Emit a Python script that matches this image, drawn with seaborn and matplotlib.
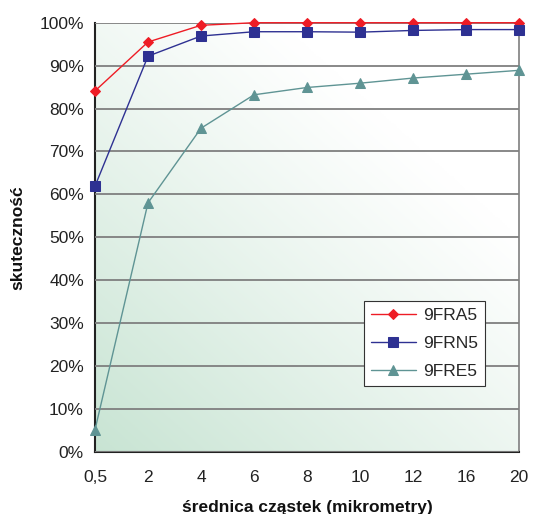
import numpy as np
import pandas as pd
import matplotlib
matplotlib.use("Agg")
import matplotlib.pyplot as plt
import seaborn as sns
from matplotlib.ticker import FuncFormatter

x_labels = ["0,5", "2", "4", "6", "8", "10", "12", "16", "20"]
fra5 = [84.1, 95.5, 99.4, 100.0, 100.0, 100.0, 100.0, 100.0, 100.0]
frn5 = [61.9, 92.2, 96.9, 97.9, 97.9, 97.8, 98.2, 98.4, 98.4]
fre5 = [5.1, 58.0, 75.4, 83.2, 84.9, 85.9, 87.1, 88.0, 88.9]
series_names = ["9FRA5", "9FRN5", "9FRE5"]

sns.set_style("white")
plt.rcParams['font.family'] = ['Liberation Sans', 'DejaVu Sans']

fig = plt.figure(figsize=(5.34, 5.14), dpi=100)
ax = fig.add_axes([0.1779, 0.1212, 0.7940, 0.8346])

# gradient background
n = 256
gx, gy = np.meshgrid(np.linspace(0, 1, n), np.linspace(0, 1, n))
t = np.clip(1 - (gx * 0.8 + gy * 0.9) / 1.25, 0, 1) ** 1.1
green = np.array([200, 228, 211]) / 255.0
white = np.array([1.0, 1.0, 1.0])
img = white[None, None, :] * (1 - t[..., None]) + green[None, None, :] * t[..., None]
ax.imshow(img, extent=[0, 1, 0, 1], transform=ax.transAxes, origin="lower",
          aspect="auto", zorder=0)

pos = list(range(len(x_labels)))
df = pd.DataFrame({"pos": pos * 3,
                   "val": fra5 + frn5 + fre5,
                   "series": sum([[s] * len(pos) for s in series_names], [])})

styles = {
    "9FRA5": dict(color="#ee1c25", marker="D", ms=5, lw=1.0, mc="#ee1c25"),
    "9FRN5": dict(color="#2e3192", marker="s", ms=6.5, lw=1.0, mc="#2e3192"),
    "9FRE5": dict(color="#5f9494", marker="^", ms=7.5, lw=1.0, mc="#5f9494"),
}
for s in series_names:
    st = styles[s]
    sub = df[df.series == s]
    sns.lineplot(data=sub, x="pos", y="val", ax=ax, color=st["color"],
                 marker=st["marker"], markersize=st["ms"], linewidth=st["lw"],
                 markeredgecolor=st["mc"], markerfacecolor=st["mc"],
                 label=s, zorder=5, clip_on=False)

ax.set_xlim(0, len(x_labels) - 1)
ax.set_ylim(0, 100)
ax.set_yticks(np.arange(0, 101, 10))
ax.yaxis.set_major_formatter(FuncFormatter(lambda v, p: f"{int(v)}%"))
ax.set_xticks(pos)
ax.set_xticklabels(x_labels)
ax.grid(axis="y", color="#7f7f7f", lw=1.3, zorder=1)
ax.set_axisbelow(False)
for line in ax.get_ygridlines():
    line.set_zorder(1)

ax.tick_params(axis="both", direction="out", length=5, width=1.0, color="#333333",
               labelsize=12.5, colors="#222222", pad=3)
ax.tick_params(axis="x", pad=8)
for side in ["left", "bottom"]:
    ax.spines[side].set_color("#222222")
    ax.spines[side].set_linewidth(1.5)
ax.spines["right"].set_color("#7f7f7f")
ax.spines["right"].set_linewidth(1.2)
ax.spines["top"].set_visible(False)

ax.set_xlabel("średnica cząstek (mikrometry)", fontsize=12.5, fontweight="bold",
              labelpad=11, color="#111111")
ax.set_ylabel("skuteczność", fontsize=12.5, fontweight="bold", labelpad=10,
              color="#111111")

leg = ax.legend(loc="upper left", bbox_to_anchor=(0.634, 0.352), frameon=True,
                fancybox=False, edgecolor="#333333", framealpha=1.0,
                fontsize=12.5, handlelength=2.6, handletextpad=0.4,
                borderpad=0.4, labelspacing=0.75, borderaxespad=0)
leg.get_frame().set_linewidth(0.8)
leg.set_zorder(10)

fig.savefig("out.png", dpi=100)
